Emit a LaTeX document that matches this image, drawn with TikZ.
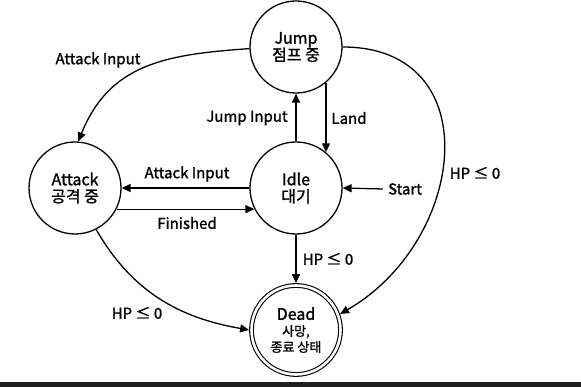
\documentclass[tikz,border=0pt]{standalone}
\usepackage{fontspec}
\setmainfont{Noto Sans CJK KR}[FakeBold=1.5]
\usetikzlibrary{arrows.meta, positioning}

\begin{document}
\begin{tikzpicture}[
    x=1pt, y=1pt,
    state/.style={circle, draw, line width=1.3pt, minimum size=92pt, inner sep=0pt,
        align=center, font=\fontsize{16}{19}\selectfont},
    arr/.style={-{Triangle[length=9pt, width=8pt]}, line width=1.3pt},
    lbl/.style={font=\fontsize{15}{17}\selectfont, inner sep=0pt}
]

    \useasboundingbox (0,0) rectangle (581,387);
    \fill[black!88] (0,0) rectangle (581,5);

    % States
    \node[state] (jump) at (296,340) {Jump\\[-2pt]점프 중};
    \node[state] (idle) at (296,199) {Idle\\[-2pt]대기};
    \node[state] (attack) at (75,199) {Attack\\[-2pt]공격 중};
    \node[state, double, double distance=2.6pt, line width=1.1pt, minimum size=89pt, outer sep=2.4pt] (dead) at (296,57)
        {Dead\\[-3pt]{\fontsize{13}{15}\selectfont 사망,}\\[-3pt]{\fontsize{13}{15}\selectfont 종료 상태}};

    % Start
    \node[lbl] (start) at (405,198) {Start};
    \draw[arr] ([xshift=-5pt]start.west) -- (idle.east);

    % Idle <-> Jump
    \draw[arr] (idle.north) -- (jump.south);
    \draw[arr] (jump.-50) -- (idle.50);
    \node[lbl] (jumpin) at (247,269) {Jump Input};
    \node[lbl] (land) at (349,269) {Land};

    % Idle <-> Attack
    \draw[arr] (idle.west) -- (attack.east);
    \draw[arr] (attack.-27) -- (idle.-153);
    \node[lbl] (atkin) at (187,213) {Attack Input};
    \node[lbl] (fin) at (187,164) {Finished};

    % Jump -> Attack
    \draw[arr] (jump.182) to[out=184, in=68, looseness=1.1] (attack.86);
    \node[lbl] (atkin2) at (98,327) {Attack Input};

    % to Dead
    \draw[arr] (idle.south) -- (dead.north);
    \draw[arr] (jump.east) to[out=0, in=30, looseness=1.4] (dead.20);
    \draw[arr] (attack.-63) to[out=-60, in=170] (dead.180);
    \node[lbl] (hp1) at (328,128) {HP ≤ 0};
    \node[lbl] (hp2) at (475,214) {HP ≤ 0};
    \node[lbl] (hp3) at (137,74) {HP ≤ 0};

\end{tikzpicture}
\end{document}
